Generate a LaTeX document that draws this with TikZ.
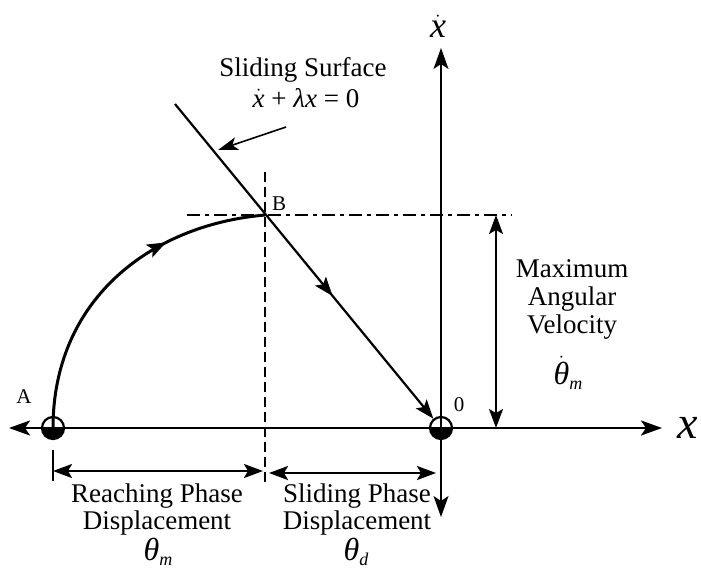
\documentclass[tikz,border=0pt]{standalone}
\usepackage{fontspec}
\setmainfont{Liberation Serif}
\newfontfamily\tms{Liberation Serif}
\usetikzlibrary{arrows.meta,decorations.markings}
\newcommand{\fs}[1]{\fontsize{#1}{#1}\selectfont}
\newcommand{\subm}[1]{\raisebox{-0.35ex}{\tms\fs{18}\itshape #1}}
\begin{document}
\begin{tikzpicture}[x=1pt,y=-1pt,
  bigtip/.tip={Stealth[length=21pt,width=15pt,inset=5pt]},
  midtip/.tip={Stealth[length=19pt,width=14pt,inset=4pt]},
  axisx/.style={line width=2.6pt,{bigtip}-{bigtip}},
  axisy/.style={line width=1.4pt,{bigtip}-{bigtip}},
  dimline/.style={line width=2.4pt,{midtip}-{midtip}},
  hdot/.style={circle,draw,line width=2.2pt,minimum size=22pt,inner sep=0pt,fill=white,
    path picture={\fill[black] (path picture bounding box.west) rectangle (path picture bounding box.south east);}},
  txt/.style={font=\tms\fs{27},align=center,inner sep=0pt},
  lbl/.style={font=\tms\fs{21},inner sep=0pt},
  guide/.style={line width=1.3pt,dash pattern=on 10pt off 5pt},
  guidedot/.style={line width=1.3pt,dash pattern=on 13pt off 5pt on 4pt off 5pt},
]
\useasboundingbox (0,0) rectangle (701,576);
% dots
\node[hdot] (A) at (53,428) {};
\node[hdot] (O) at (441,428) {};
% coordinates
\coordinate (B) at (265,215);
\coordinate (Ltop) at (175,104);
\coordinate (xl) at (9,428);
\coordinate (xr) at (662,428);
\coordinate (yt) at (441,48);
\coordinate (yb) at (441,517);
\coordinate (vt) at (265,172);
\coordinate (vb) at (265,482);
\coordinate (hl) at (187,215);
\coordinate (hr) at (512,215);
\coordinate (mt) at (496,215);
\coordinate (mb) at (496,428);
\coordinate (pt1) at (286,127);
\coordinate (pt2) at (218,150);
\coordinate (tk1) at (53,450);
\coordinate (tk2) at (53,481);
\coordinate (d1) at (53,471);
\coordinate (d2) at (263,471);
\coordinate (d3) at (269,473);
\coordinate (d4) at (436,473);
% guides
\draw[guide] (vt) -- (vb);
\draw[guidedot] (hl) -- (hr);
% axes
\draw[axisx] (xl) -- (xr);
\draw[axisy] (yt) -- (yb);
% reaching curve
\draw[line width=3pt,decoration={markings,mark=at position 0.69 with {\arrow{midtip}}},postaction={decorate}]
  (A.center) .. controls (53,300) and (150,225) .. (B);
% sliding line
\draw[line width=2.2pt,-{midtip},decoration={markings,mark=at position 0.61 with {\arrow{midtip}}},postaction={decorate}]
  (Ltop) -- (O);
% pointer
\draw[line width=1.6pt,-{Stealth[length=20pt,width=13pt,inset=5pt]}] (pt1) -- (pt2);
% max velocity
\draw[line width=1.6pt,{midtip}-{midtip}] (mt) -- (mb);
% dimension
\draw[line width=2pt] (tk1) -- (tk2);
\draw[dimline] (d1) -- (d2);
\draw[dimline] (d3) -- (d4);
% labels
\node[font=\tms\fs{46}\itshape,inner sep=0pt] (xlab) at (688,428) {x};
\node[font=\tms\fs{36},inner sep=0pt] (ylab) at (438,26) {$\dot{\hbox{\tms\itshape x}}$};
\node[txt] (ss) at (303,70) {Sliding Surface};
\node[txt] (eq) at (306,98) {$\dot{\hbox{\tms\itshape x}}$ + {\itshape λx} = 0};
\node[lbl] (Alab) at (24,397) {A};
\node[lbl] (Blab) at (279,204) {B};
\node[lbl] (Olab) at (459,405) {0};
\node[txt] (mav) at (572,299) {Maximum\\[1pt]Angular\\[1pt]Velocity};
\node[font=\tms\fs{32},inner sep=0pt] (thm1) at (568,373) {$\dot{\hbox{\tms\itshape θ}}$\subm{m}};
\node[txt] (rp) at (157,509) {Reaching Phase\\Displacement};
\node[txt] (sp) at (357,509) {Sliding Phase\\Displacement};
\node[font=\tms\fs{32},inner sep=0pt] (thm2) at (158,552) {{\itshape θ}\subm{m}};
\node[font=\tms\fs{32},inner sep=0pt] (thd) at (356,552) {{\itshape θ}\subm{d}};
\end{tikzpicture}
\end{document}
